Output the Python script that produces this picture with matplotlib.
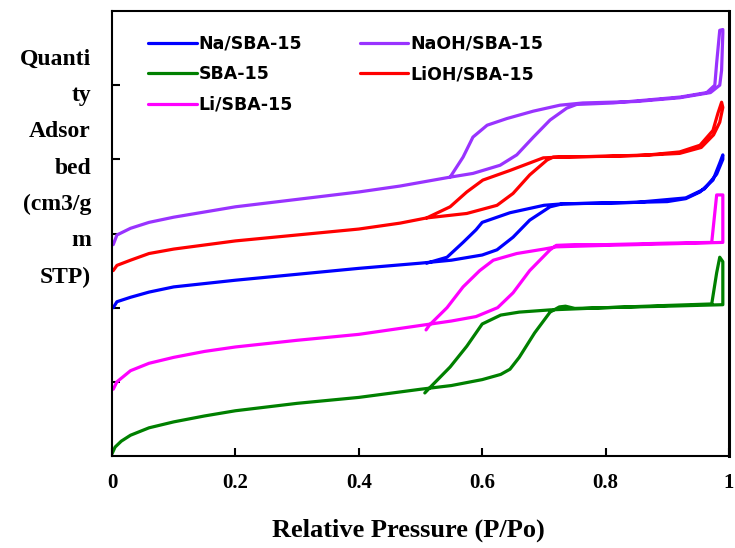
import matplotlib
matplotlib.use("Agg")
import matplotlib.pyplot as plt

# ---------------- data ----------------
x_ticks = [0, 0.2, 0.4, 0.6, 0.8, 1]
x_tick_labels = ["0", "0.2", "0.4", "0.6", "0.8", "1"]
y_ticks = [1, 2, 3, 4, 5]

# SBA-15
sba_ads_x = [0.0, 0.005, 0.015, 0.03, 0.06, 0.1, 0.15, 0.2, 0.3, 0.4, 0.5, 0.55, 0.6, 0.63, 0.645,
             0.66, 0.685, 0.71, 0.725, 0.735, 0.75, 0.8, 0.9, 0.972, 0.98, 0.985]
sba_ads_y = [0.03, 0.12, 0.2, 0.28, 0.38, 0.46, 0.54, 0.61, 0.71, 0.79, 0.9, 0.95, 1.03, 1.1, 1.17,
             1.33, 1.66, 1.94, 2.01, 2.02, 1.99, 2.0, 2.03, 2.05, 2.47, 2.68]
sba_des_x = [0.99, 0.99, 0.9, 0.8, 0.71, 0.66, 0.63, 0.6, 0.575, 0.548, 0.515, 0.507]
sba_des_y = [2.62, 2.04, 2.02, 2.0, 1.97, 1.94, 1.9, 1.78, 1.48, 1.2, 0.92, 0.85]

# Li/SBA-15
li_ads_x = [0.002, 0.008, 0.03, 0.06, 0.1, 0.15, 0.2, 0.3, 0.4, 0.5, 0.55, 0.59, 0.625, 0.65,
            0.677, 0.71, 0.72, 0.75, 0.8, 0.9, 0.972, 0.98, 0.99]
li_ads_y = [0.9, 1.0, 1.15, 1.25, 1.33, 1.41, 1.47, 1.56, 1.64, 1.76, 1.82, 1.88, 2.0, 2.2,
            2.5, 2.78, 2.84, 2.85, 2.85, 2.87, 2.88, 3.52, 3.52]
li_des_x = [0.99, 0.9, 0.8, 0.72, 0.7, 0.656, 0.618, 0.596, 0.569, 0.543, 0.515, 0.509]
li_des_y = [2.88, 2.86, 2.84, 2.82, 2.79, 2.73, 2.64, 2.5, 2.28, 2.0, 1.77, 1.70]

# Na/SBA-15
na_ads_x = [0.002, 0.008, 0.03, 0.06, 0.1, 0.2, 0.3, 0.4, 0.5, 0.55, 0.6, 0.624, 0.65, 0.677,
            0.71, 0.73, 0.8, 0.9, 0.93, 0.953, 0.974, 0.985, 0.99]
na_ads_y = [2.0, 2.08, 2.14, 2.21, 2.28, 2.37, 2.45, 2.53, 2.6, 2.64, 2.71, 2.78, 2.95, 3.18,
            3.36, 3.4, 3.41, 3.43, 3.47, 3.56, 3.72, 3.95, 4.06]
na_des_x = [0.99, 0.98, 0.96, 0.93, 0.85, 0.73, 0.7, 0.645, 0.6, 0.59, 0.569, 0.543, 0.51]
na_des_y = [4.0, 3.8, 3.6, 3.48, 3.42, 3.4, 3.38, 3.28, 3.15, 3.05, 2.88, 2.68, 2.6]

# LiOH/SBA-15
lioh_ads_x = [0.002, 0.008, 0.03, 0.06, 0.1, 0.2, 0.3, 0.4, 0.467, 0.51, 0.575, 0.624, 0.65,
              0.677, 0.705, 0.715, 0.8, 0.87, 0.92, 0.953, 0.974, 0.982, 0.988]
lioh_ads_y = [2.5, 2.57, 2.64, 2.73, 2.79, 2.9, 2.98, 3.06, 3.14, 3.21, 3.27, 3.38, 3.54,
              3.79, 3.99, 4.03, 4.04, 4.06, 4.1, 4.19, 4.39, 4.62, 4.77]
lioh_des_x = [0.99, 0.985, 0.975, 0.955, 0.92, 0.85, 0.726, 0.699, 0.645, 0.601, 0.575, 0.548, 0.51]
lioh_des_y = [4.7, 4.5, 4.33, 4.16, 4.08, 4.05, 4.03, 4.02, 3.85, 3.72, 3.56, 3.36, 3.21]

# NaOH/SBA-15
naoh_ads_x = [0.002, 0.008, 0.03, 0.06, 0.1, 0.2, 0.3, 0.4, 0.467, 0.548, 0.585, 0.629, 0.656,
              0.683, 0.71, 0.737, 0.753, 0.812, 0.867, 0.921, 0.964, 0.977, 0.98, 0.985, 0.99]
naoh_ads_y = [2.85, 2.98, 3.07, 3.15, 3.22, 3.36, 3.46, 3.56, 3.64, 3.76, 3.81, 3.92, 4.06,
              4.3, 4.53, 4.69, 4.74, 4.76, 4.8, 4.84, 4.9, 5.0, 5.3, 5.74, 5.75]
naoh_des_x = [0.99, 0.988, 0.985, 0.97, 0.92, 0.85, 0.763, 0.726, 0.683, 0.64, 0.608, 0.585,
              0.569, 0.548]
naoh_des_y = [5.7, 5.2, 5.0, 4.9, 4.83, 4.78, 4.76, 4.73, 4.65, 4.55, 4.46, 4.3, 4.03, 3.76]

series = [
    ("Na/SBA-15", na_ads_x, na_ads_y, na_des_x, na_des_y, "#0000FF"),
    ("SBA-15", sba_ads_x, sba_ads_y, sba_des_x, sba_des_y, "#008000"),
    ("Li/SBA-15", li_ads_x, li_ads_y, li_des_x, li_des_y, "#FF00FF"),
    ("NaOH/SBA-15", naoh_ads_x, naoh_ads_y, naoh_des_x, naoh_des_y, "#9933FF"),
    ("LiOH/SBA-15", lioh_ads_x, lioh_ads_y, lioh_des_x, lioh_des_y, "#FF0000"),
]

# ---------------- figure ----------------
fig = plt.figure(figsize=(7.35, 5.48), dpi=100)
ax = fig.add_axes([112 / 735, 1 - 456 / 548, (729 - 112) / 735, (456 - 11) / 548])

handles = {}
for name, ax_x, ax_y, dx, dy, col in series:
    ln, = ax.plot(ax_x + dx, ax_y + dy, color=col, lw=2.3, solid_joinstyle="round",
                  solid_capstyle="round", label=name)
    handles[name] = ln

ax.set_xlim(0, 1)
ax.set_ylim(0, 6)
ax.set_xticks(x_ticks)
ax.set_xticklabels(x_tick_labels, fontfamily="Liberation Serif", fontweight="bold", fontsize=15)
ax.set_yticks(y_ticks)
ax.set_yticklabels([])
ax.tick_params(direction="in", length=6, width=1.5, pad=12)
for s in ax.spines.values():
    s.set_linewidth(1.5)
ax.spines["right"].set_linewidth(2.2)

fig.text(408 / 735, 1 - 530 / 548, "Relative Pressure (P/Po)", ha="center", va="center",
         fontfamily="Liberation Serif", fontweight="bold", fontsize=19)
fig.text(91 / 735, 1 - 49 / 548, "Quanti\nty\nAdsor\nbed\n(cm3/g\nm\nSTP)",
         ha="right", va="top", multialignment="right", fontfamily="Liberation Serif",
         fontweight="bold", fontsize=17, linespacing=1.95)

legfont = {"family": "DejaVu Sans", "weight": "bold", "size": 12.5}
common = dict(loc="upper left", frameon=False, prop=legfont, handlelength=2.8,
              handletextpad=0.1, labelspacing=0.72, borderpad=0)
leg1 = ax.legend([handles[n] for n in ["Na/SBA-15", "SBA-15", "Li/SBA-15"]],
                 ["Na/SBA-15", "SBA-15", "Li/SBA-15"], bbox_to_anchor=(0.0445, 0.966), **common)
ax.add_artist(leg1)
leg2 = ax.legend([handles[n] for n in ["NaOH/SBA-15", "LiOH/SBA-15"]],
                 ["NaOH/SBA-15", "LiOH/SBA-15"], bbox_to_anchor=(0.3875, 0.966), **common)

fig.savefig("out.png", dpi=100)
